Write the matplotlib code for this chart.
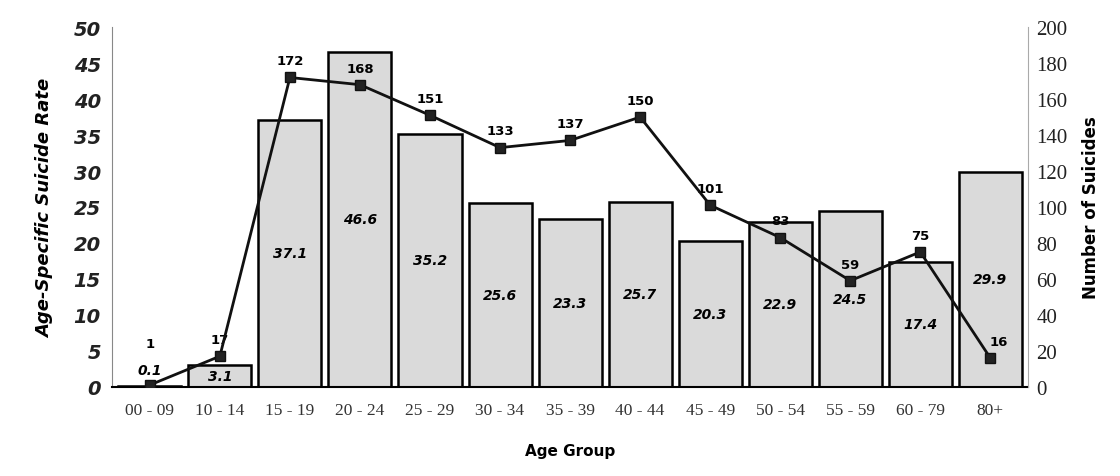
import numpy as np
import matplotlib
matplotlib.use("Agg")
import matplotlib.pyplot as plt

# data
age_groups = ["00-09", "10-14", "15-19", "20-24", "25-29", "30-34", "35-39",
              "40-44", "45-49", "50-54", "55-59", "60-79", "80+"]
rate = [0.1, 3.1, 37.1, 46.6, 35.2, 25.6, 23.3, 25.7, 20.3, 22.9, 24.5, 17.4, 29.9]
suicides = [1, 17, 172, 168, 151, 133, 137, 150, 101, 83, 59, 75, 16]

x = np.arange(len(age_groups))

fig = plt.figure(figsize=(11.2, 4.77), dpi=100)
ax = fig.add_axes([0.1, 0.187, 0.818, 0.754])

# bars - rate on left axis
ax.bar(x, rate, width=0.9, color="#dadada", edgecolor="black", linewidth=1.8, zorder=2)
ax.set_ylim(0, 50)
ax.set_xlim(-0.54, len(age_groups) - 0.46)
ax.set_yticks(np.arange(0, 51, 5))
ax.set_yticklabels([str(v) for v in range(0, 51, 5)], fontsize=14,
                   fontweight="bold", fontstyle="italic", color="#222222")
ax.set_xticks(x)
ax.set_xticklabels([g.replace("-", " - ") for g in age_groups],
                   family="Liberation Serif", fontsize=12.5, color="#333333")
ax.tick_params(axis="both", length=0, pad=8)
ax.tick_params(axis="x", pad=11)
ax.set_ylabel("Age-Specific Suicide Rate", fontsize=13, fontweight="bold",
              fontstyle="italic", labelpad=14)
ax.set_xlabel("Age Group", fontsize=11, fontweight="bold", labelpad=18)

for s in ["top", "right"]:
    ax.spines[s].set_visible(False)
ax.spines["left"].set_color("#888888")
ax.spines["bottom"].set_linewidth(1.5)

# bar labels
for i, v in enumerate(rate):
    ypos = v + 2.2 if v < 1 else v / 2
    ax.text(x[i], ypos, f"{v}", ha="center", va="center", fontsize=10,
            fontweight="bold", fontstyle="italic", zorder=5)

# line - number of suicides on right axis
ax2 = ax.twinx()
ax2.plot(x, suicides, color="#111111", linewidth=2, marker="s", markersize=7,
         markerfacecolor="#222222", zorder=4)
ax2.set_ylim(0, 200)
ax2.set_yticks(np.arange(0, 201, 20))
ax2.set_yticklabels([str(v) for v in range(0, 201, 20)], family="Liberation Serif",
                    fontsize=15, color="#222222")
ax2.tick_params(axis="y", length=0, pad=6)
ax2.set_ylabel("Number of Suicides", fontsize=12, fontweight="bold", labelpad=10)
for s in ["top", "left", "bottom"]:
    ax2.spines[s].set_visible(False)
ax2.spines["right"].set_color("#aaaaaa")

for i, v in enumerate(suicides):
    dy = 30 if i == 0 else 12
    dx = 6 if i == len(suicides) - 1 else 0
    ax2.annotate(str(v), (x[i], v), xytext=(dx, dy),
                 textcoords="offset points", ha="center", va="center",
                 fontsize=9.5, fontweight="bold")

fig.savefig("out.png", dpi=100, facecolor="white")
